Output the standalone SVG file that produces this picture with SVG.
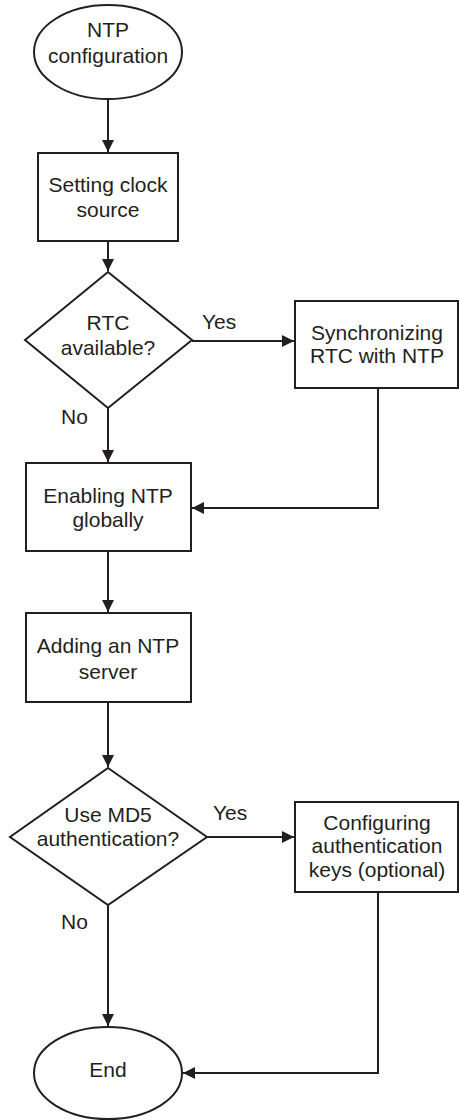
<svg xmlns="http://www.w3.org/2000/svg" width="459" height="1120" viewBox="0 0 459 1120">
<style>
.s{fill:#fff;stroke:#231f20;stroke-width:2}
.t{font-family:"Liberation Sans",Arial,sans-serif;font-size:21px;fill:#231f20;text-anchor:middle}
.l{font-family:"Liberation Sans",Arial,sans-serif;font-size:21px;fill:#231f20}
.c{fill:none;stroke:#231f20;stroke-width:2}
</style>
<defs>
<marker id="a" markerUnits="userSpaceOnUse" markerWidth="13" markerHeight="13" refX="12" refY="6" orient="auto">
<path d="M0,0 L12,6 L0,12 z" fill="#231f20"/>
</marker>
</defs>
<rect width="459" height="1120" fill="#fff"/>
<g id="connectors">
<path class="c" d="M108,99 V152" marker-end="url(#a)"/>
<path class="c" d="M108,241 V271" marker-end="url(#a)"/>
<path class="c" d="M192,341 H294" marker-end="url(#a)"/>
<path class="c" d="M108,408 V462" marker-end="url(#a)"/>
<path class="c" d="M378,388 V508 H192" marker-end="url(#a)"/>
<path class="c" d="M108,551 V612" marker-end="url(#a)"/>
<path class="c" d="M108,702 V767" marker-end="url(#a)"/>
<path class="c" d="M207,837 H294" marker-end="url(#a)"/>
<path class="c" d="M108,905 V1026" marker-end="url(#a)"/>
<path class="c" d="M378,892 V1073 H183" marker-end="url(#a)"/>
<text class="l" x="202" y="329">Yes</text>
<text class="l" x="61" y="424">No</text>
<text class="l" x="213" y="820">Yes</text>
<text class="l" x="61" y="929">No</text>
</g>
<g id="start">
<ellipse class="s" cx="108" cy="52" rx="74" ry="47"/>
<text class="t" x="108" y="37">NTP</text>
<text class="t" x="108" y="63">configuration</text>
</g>
<g id="clock">
<rect class="s" x="38" y="153" width="140" height="88"/>
<text class="t" x="108" y="192">Setting clock</text>
<text class="t" x="108" y="217">source</text>
</g>
<g id="rtc">
<path class="s" d="M108,272 L192,340 L108,408 L25,340 Z"/>
<text class="t" x="108" y="330">RTC</text>
<text class="t" x="108" y="355">available?</text>
</g>
<g id="sync">
<rect class="s" x="295" y="301" width="163" height="87"/>
<text class="t" x="377" y="340">Synchronizing</text>
<text class="t" x="377" y="363">RTC with NTP</text>
</g>
<g id="enable">
<rect class="s" x="26" y="463" width="165" height="88"/>
<text class="t" x="108" y="503">Enabling NTP</text>
<text class="t" x="108" y="527">globally</text>
</g>
<g id="server">
<rect class="s" x="26" y="613" width="165" height="89"/>
<text class="t" x="108" y="653">Adding an NTP</text>
<text class="t" x="108" y="679">server</text>
</g>
<g id="md5">
<path class="s" d="M108,768 L207,837 L108,905 L10,837 Z"/>
<text class="t" x="108" y="822">Use MD5</text>
<text class="t" x="108" y="846">authentication?</text>
</g>
<g id="keys">
<rect class="s" x="295" y="802" width="163" height="90"/>
<text class="t" x="377" y="830">Configuring</text>
<text class="t" x="377" y="853">authentication</text>
<text class="t" x="377" y="877">keys (optional)</text>
</g>
<g id="end">
<ellipse class="s" cx="108" cy="1073" rx="74" ry="46"/>
<text class="t" x="108" y="1077">End</text>
</g>
</svg>
